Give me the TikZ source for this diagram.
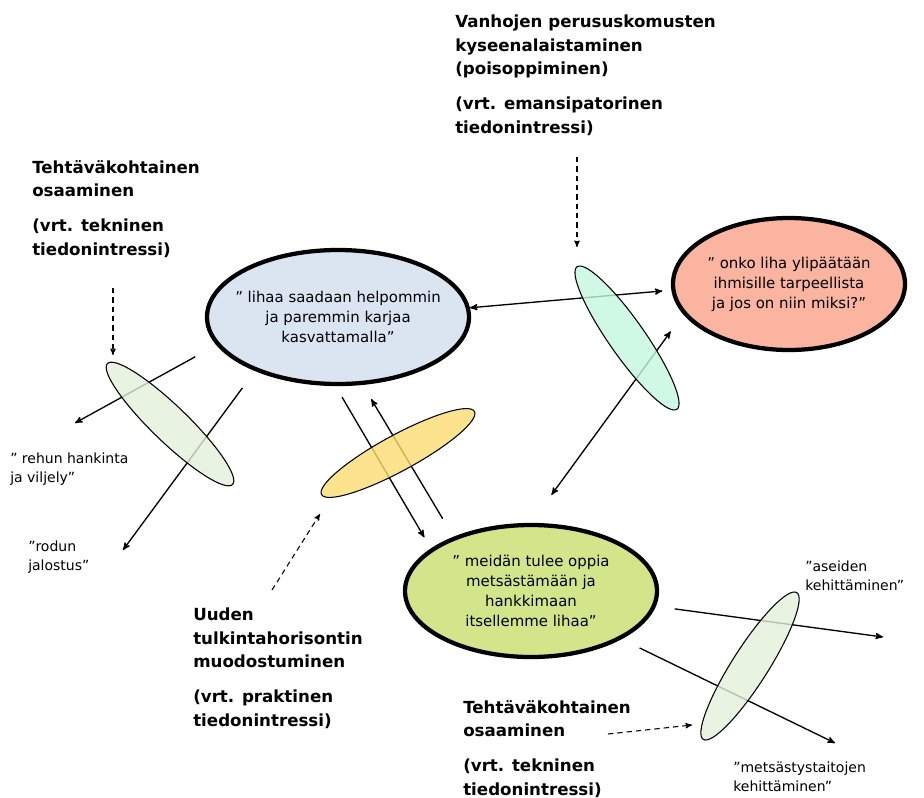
\documentclass[tikz,border=0pt]{standalone}
\usepackage{fontspec}
\setmainfont{DejaVu Sans}
\usetikzlibrary{shapes.geometric,arrows}
\definecolor{lihaväri}{HTML}{DBE5F1}
\definecolor{tarveväri}{HTML}{FAB49F}
\definecolor{metsäväri}{HTML}{D2E58A}
\definecolor{vaaleavihreä}{HTML}{E2F0D9}
\definecolor{minttu}{HTML}{C4F8DF}
\definecolor{keltainen}{HTML}{FDDC70}
\tikzset{
	kupla/.style={ellipse, draw, line width=3.2pt, inner xsep=-10pt, inner ysep=0pt, align=center, font=\fontsize{11.2}{15}\selectfont},
	suodatin/.style={ellipse, draw, line width=0.8pt, minimum width=130.5pt, minimum height=27pt, inner sep=0pt, fill opacity=0.8},
	otsikko/.style={anchor=north west, inner sep=0pt, align=left, font=\fontsize{12.5}{17.6}\selectfont\bfseries},
	selite/.style={anchor=north west, inner sep=0pt, align=left, font=\fontsize{10.5}{14}\selectfont},
	nuoli/.style={->, line width=1pt},
	katko/.style={->, dash pattern=on 4pt off 3pt, line width=0.8pt}
}

\begin{document}
\begin{tikzpicture}[>=stealth', x=0.75pt, y=-0.75pt]
	\useasboundingbox (0,0) rectangle (924,797);
	% kuplat
	\node (liha) [kupla, fill=lihaväri, minimum width=196.5pt, minimum height=100.5pt] at (338,317) {” lihaa saadaan helpommin\\ja paremmin karjaa\\kasvattamalla”};
	\node (tarve) [kupla, fill=tarveväri, minimum width=174pt, minimum height=99pt] at (789,284) {” onko liha ylipäätään\\ihmisille tarpeellista\\ja jos on niin miksi?”};
	\node (metsa) [kupla, fill=metsäväri, minimum width=189pt, minimum height=99pt] at (531,591) {” meidän tulee oppia\\metsästämään ja\\hankkimaan\\itsellemme lihaa”};
	% otsikot
	\node (poisopp) [otsikko] at (455,15) {Vanhojen perususkomusten\\kyseenalaistaminen\\(poisoppiminen)\\[8.6pt](vrt. emansipatorinen\\tiedonintressi)};
	\node (tekn1) [otsikko] at (32,160) {Tehtäväkohtainen\\osaaminen\\[8.6pt](vrt. tekninen\\tiedonintressi)};
	\node (uusi) [otsikko] at (193,608) {Uuden\\tulkintahorisontin\\muodostuminen\\[8.6pt](vrt. praktinen\\tiedonintressi)};
	\node (tekn2) [otsikko] at (463,700) {Tehtäväkohtainen\\osaaminen\\[8.6pt](vrt. tekninen\\tiedonintressi)};
	% selitteet
	\node (rehu) [selite] at (10,453) {” rehun hankinta\\ja viljely”};
	\node (rotu) [selite] at (28,541) {”rodun\\jalostus”};
	\node (ase) [selite] at (805,561) {”aseiden\\kehittäminen”};
	\node (taito) [selite] at (733,762) {”metsästystaitojen\\kehittäminen”};
	% nuolet
	\coordinate (rehupää) at (75,423);
	\coordinate (rotupää) at (123,550);
	\coordinate (asepää) at (883,637);
	\coordinate (taitopää) at (835,743);
	\draw [<->, line width=1pt, shorten >=6.75pt] (liha.4) -- (tarve.183);
	\draw [<->, line width=1pt, shorten <=26pt, shorten >=15.75pt] (metsa.90) -- (tarve.196);
	\draw [nuoli, shorten <=9.6pt, shorten >=9.75pt] (liha.268) -- (metsa.157);
	\draw [nuoli, shorten <=15.75pt, shorten >=12.4pt] (metsa.145) -- (liha.290);
	\draw [nuoli, shorten <=18pt] (liha.193) -- (rehupää);
	\draw [nuoli, shorten <=15.75pt] (liha.213) -- (rotupää);
	\draw [nuoli, shorten <=14.25pt] (metsa.353) -- (asepää);
	\draw [nuoli, shorten <=15pt] (metsa.332) -- (taitopää);
	% katkoviivat
	\draw [katko] (577,157) -- (577,247);
	\draw [katko] (113,288) -- (113,355);
	\draw [katko] (272,590) -- (320,514);
	\draw [katko] (608,734) -- (692,725);
	% suodattimet
	\node (suod1) [suodatin, fill=vaaleavihreä, rotate=-44] at (170,424) {};
	\node (suod2) [suodatin, fill=minttu, rotate=-55] at (627,338) {};
	\node (suod3) [suodatin, fill=keltainen, rotate=28.5] at (398,453) {};
	\node (suod4) [suodatin, fill=vaaleavihreä, rotate=57.5] at (750,666) {};
\end{tikzpicture}
\end{document}
